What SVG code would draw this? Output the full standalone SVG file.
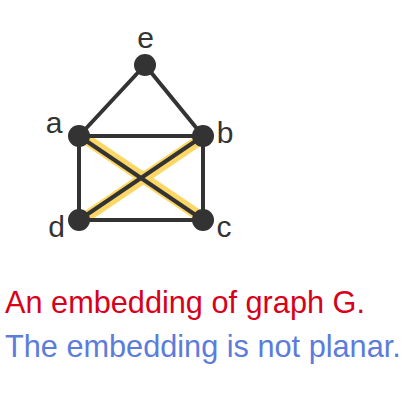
<svg xmlns="http://www.w3.org/2000/svg" width="414" height="402" viewBox="0 0 414 402">
<style>
.hl{stroke:#fcd766;stroke-width:11;stroke-linecap:butt;fill:none}
.ed{stroke:#333333;stroke-width:4;fill:none}
.nd{fill:#333333}
.lb{font-family:"Liberation Sans",Arial,sans-serif;font-size:30px;fill:#333333}
.t1{font-family:"Liberation Sans",Arial,sans-serif;font-size:30.7px;fill:#d8001a}
.t2{font-family:"Liberation Sans",Arial,sans-serif;font-size:30.7px;fill:#5c7cdc}
</style>
<rect width="414" height="402" fill="#ffffff"/>
<g id="connectors">
<line class="hl" x1="79.8" y1="134.9" x2="203.8" y2="218.9"/>
<line class="hl" x1="203.8" y1="137.1" x2="79.8" y2="221.1"/>
<line class="ed" x1="145" y1="65" x2="79" y2="136"/>
<line class="ed" x1="145" y1="65" x2="203" y2="136"/>
<line class="ed" x1="79" y1="136" x2="203" y2="136"/>
<line class="ed" x1="79" y1="136" x2="79" y2="220"/>
<line class="ed" x1="203" y1="136" x2="203" y2="220"/>
<line class="ed" x1="79" y1="220" x2="203" y2="220"/>
<line class="ed" x1="79" y1="136" x2="203" y2="220"/>
<line class="ed" x1="203" y1="136" x2="79" y2="220"/>
</g>
<g id="node-e"><circle class="nd" cx="145" cy="65" r="11"/><text class="lb" x="145.5" y="47.5" text-anchor="middle">e</text></g>
<g id="node-a"><circle class="nd" cx="79" cy="136" r="11"/><text class="lb" x="54" y="132.5" text-anchor="middle">a</text></g>
<g id="node-b"><circle class="nd" cx="203" cy="136" r="11"/><text class="lb" x="225" y="142.5" text-anchor="middle">b</text></g>
<g id="node-c"><circle class="nd" cx="203" cy="220" r="11"/><text class="lb" x="224" y="236.5" text-anchor="middle">c</text></g>
<g id="node-d"><circle class="nd" cx="79" cy="220" r="11"/><text class="lb" x="56.5" y="236.5" text-anchor="middle">d</text></g>
<g id="caption">
<text class="t1" x="5" y="313">An embedding of graph G.</text>
<text class="t2" x="5" y="357">The embedding is not planar.</text>
</g>
</svg>
